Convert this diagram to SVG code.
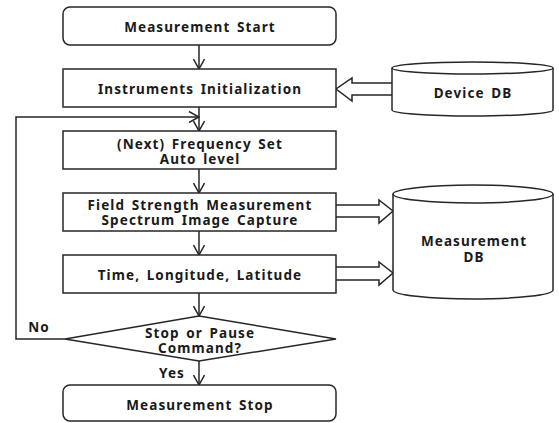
<svg xmlns="http://www.w3.org/2000/svg" width="559" height="423" viewBox="0 0 559 423">
  <style>
    .box { fill: #fff; stroke: #262626; stroke-width: 1.5; }
    .line { fill: none; stroke: #262626; stroke-width: 1.5; }
    .fat { fill: #fff; stroke: #262626; stroke-width: 1.5; stroke-linejoin: miter; }
    text { font-family: "Noto Sans", "DejaVu Sans", sans-serif; font-weight: bold; font-size: 13.5px; fill: #1a1a1a; text-anchor: middle; dominant-baseline: central; letter-spacing: 1.1px; word-spacing: 2px; }
  </style>
  <defs>
    <marker id="open" viewBox="0 0 12 12" refX="11" refY="6" markerWidth="12" markerHeight="12" markerUnits="userSpaceOnUse" orient="auto">
      <path d="M1,0.5 L11,6 L1,11.5" fill="none" stroke="#262626" stroke-width="1.5"/>
    </marker>
  </defs>

  <g id="connectors">
    <line class="line" x1="199" y1="45" x2="199" y2="69" marker-end="url(#open)"/>
    <line class="line" x1="199" y1="107" x2="199" y2="131" marker-end="url(#open)"/>
    <polyline class="line" points="65,339 16,339 16,117 199,117" marker-end="url(#open)"/>
    <line class="line" x1="199" y1="169" x2="199" y2="193" marker-end="url(#open)"/>
    <line class="line" x1="199" y1="231" x2="199" y2="255" marker-end="url(#open)"/>
    <line class="line" x1="199" y1="293" x2="199" y2="316" marker-end="url(#open)"/>
    <line class="line" x1="199" y1="361" x2="199" y2="385" marker-end="url(#open)"/>
    <!-- block arrows between process boxes and databases -->
    <path class="fat" d="M392,83 L352,83 L352,78 L336,89 L352,101 L352,95 L392,95"/>
    <path class="fat" d="M336,205 L379,205 L379,200 L393,211 L379,223 L379,217 L336,217"/>
    <path class="fat" d="M336,267 L379,267 L379,262 L393,273 L379,285 L379,280 L336,280"/>
    <text x="39" y="327">No</text>
    <text x="172" y="373">Yes</text>
  </g>

  <g id="start">
    <rect class="box" x="63" y="7" width="273" height="38" rx="7"/>
    <text x="200" y="27">Measurement Start</text>
  </g>

  <g id="init">
    <rect class="box" x="63" y="69" width="273" height="38"/>
    <text x="200" y="89">Instruments Initialization</text>
  </g>

  <g id="device-db">
    <path class="box" d="M392,68 L392,110 A80.5,6 0 0 0 553,110 L553,68"/>
    <ellipse class="box" cx="472.5" cy="68" rx="80.5" ry="6"/>
    <text x="473" y="93">Device DB</text>
  </g>

  <g id="freq">
    <rect class="box" x="63" y="131" width="273" height="38"/>
    <text x="200" y="144">(Next) Frequency Set</text>
    <text x="200" y="159">Auto level</text>
  </g>

  <g id="field">
    <rect class="box" x="63" y="193" width="273" height="38"/>
    <text x="200" y="205">Field Strength Measurement</text>
    <text x="200" y="220">Spectrum Image Capture</text>
  </g>

  <g id="position">
    <rect class="box" x="63" y="255" width="273" height="38"/>
    <text x="200" y="275">Time, Longitude, Latitude</text>
  </g>

  <g id="measurement-db">
    <path class="box" d="M393,194 L393,290 A80,9 0 0 0 553,290 L553,194"/>
    <ellipse class="box" cx="473" cy="194" rx="80" ry="9"/>
    <text x="474" y="241">Measurement</text>
    <text x="474" y="257">DB</text>
  </g>

  <g id="decision">
    <polygon class="box" points="199,316 336,339 199,361 65,339"/>
    <text x="200" y="333">Stop or Pause</text>
    <text x="200" y="348">Command?</text>
  </g>

  <g id="stop">
    <rect class="box" x="63" y="385" width="273" height="36" rx="7"/>
    <text x="200" y="405">Measurement Stop</text>
  </g>
</svg>
